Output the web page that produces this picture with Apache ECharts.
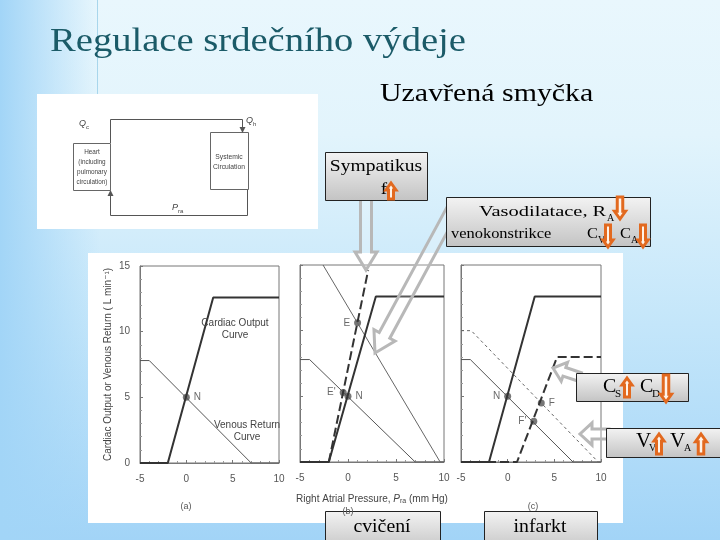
<!DOCTYPE html>
<html>
<head>
<meta charset="utf-8">
<script src="https://cdn.jsdelivr.net/npm/echarts@6/dist/echarts.min.js"></script>
<style>
html, body { margin: 0; padding: 0; }
#main { width: 720px; height: 540px; }
</style>
</head>
<body>
<div id="main"></div>
<script>
// axes
var xMin = -5, xMax = 10, xStep = 5;
var yMin = 0, yMax = 15, yStep = 5;

// normal cardiac output curve (all three panels)
var coX = [-5, -2, 2.9, 10];
var coY = [0, 0, 12.6, 12.6];
// normal venous return curve (all three panels)
var vrX = [-5, -4, 7, 10];
var vrY = [7.8, 7.8, 0, 0];

// (b) exercise
var coExX = [-2, 2.1];
var coExY = [0, 14.6];
var vrExX = [-2.6, 9.6, 10];
var vrExY = [15, 0, 0];

// (c) infarct
var coInfX = [-5, 1, 5.3, 10];
var coInfY = [0, 0, 8, 8];
var vrInfX = [-5, -3.9, 9.7, 10];
var vrInfY = [10, 10, 0, 0];

// equilibrium points
var ptNameA = ['N'];
var ptXA = [0];
var ptYA = [5];
var ptNameB = ['E', "E'", 'N'];
var ptXB = [1.0, -0.5, 0];
var ptYB = [10.6, 5.3, 5];
var ptNameC = ['N', 'F', "F'"];
var ptXC = [0, 3.6, 2.8];
var ptYC = [5, 4.5, 3.1];

var SERIF = '"Liberation Serif", "DejaVu Serif", serif';
var SANS = '"Liberation Sans", "DejaVu Sans", sans-serif';

function zip(xs, ys) {
    return xs.map(function (x, i) { return [x, ys[i]]; });
}

function pts(names, xs, ys, sides) {
    return names.map(function (n, i) {
        return { name: n, value: [xs[i], ys[i]], label: { position: sides[i] } };
    });
}

function line(gi, data, width, color, type) {
    return {
        type: 'line', xAxisIndex: gi, yAxisIndex: gi, data: data,
        showSymbol: false, silent: true, animation: false,
        lineStyle: { color: color, width: width, type: type || 'solid' }
    };
}

function dots(gi, data) {
    return {
        type: 'scatter', xAxisIndex: gi, yAxisIndex: gi, data: data,
        symbolSize: 7, animation: false,
        itemStyle: { color: '#555' },
        label: {
            show: true, formatter: '{b}', fontSize: 10, fontFamily: SANS,
            color: '#444', distance: 4
        }
    };
}

function xAx(gi) {
    return {
        gridIndex: gi, type: 'value', min: xMin, max: xMax, interval: xStep,
        axisLine: { show: true, onZero: false, lineStyle: { color: '#777' } },
        axisTick: { show: true, inside: true, length: 3, lineStyle: { color: '#777' } },
        minorTick: { show: true, splitNumber: 5, length: 2, lineStyle: { color: '#999' } },
        splitLine: { show: false },
        axisLabel: { color: '#555', fontSize: 10, fontFamily: SANS, margin: 11 }
    };
}

function yAx(gi) {
    return {
        gridIndex: gi, type: 'value', min: yMin, max: yMax, interval: yStep,
        axisLine: { show: true, onZero: false, lineStyle: { color: '#777' } },
        axisTick: { show: true, inside: true, length: 3, lineStyle: { color: '#777' } },
        minorTick: { show: true, splitNumber: 5, length: 2, lineStyle: { color: '#999' } },
        splitLine: { show: false },
        axisLabel: { show: gi === 0, color: '#555', fontSize: 10, fontFamily: SANS, margin: 10 }
    };
}

// ---- slide decoration helpers ----
function stext(x, y, s, size, opt) {
    opt = opt || {};
    var al = opt.align || 'left';
    return {
        type: 'text', x: x, y: y, scaleX: opt.sx || 1.12, z: 120, silent: true,
        style: {
            text: s, fontFamily: opt.font || SERIF, fontSize: size,
            fontStyle: opt.italic ? 'italic' : 'normal',
            fill: opt.color || '#000', lineHeight: opt.lh,
            align: al, textAlign: al, verticalAlign: 'middle', textVerticalAlign: 'middle'
        }
    };
}

function box(x, y, w, h) {
    return {
        type: 'rect', z: 110, silent: true,
        shape: { x: x + 0.5, y: y + 0.5, width: w, height: h },
        style: {
            fill: { type: 'linear', x: 0, y: 0, x2: 0, y2: 1,
                colorStops: [{ offset: 0, color: '#f3f3f3' }, { offset: 1, color: '#c3c3c3' }] },
            stroke: '#222', lineWidth: 1
        }
    };
}

function arrowPts(x1, y1, x2, y2, sw, hw, hl) {
    var dx = x2 - x1, dy = y2 - y1, L = Math.sqrt(dx * dx + dy * dy);
    var ux = dx / L, uy = dy / L, nx = -uy, ny = ux;
    var bx = x2 - ux * hl, by = y2 - uy * hl;
    return [
        [x1 + nx * sw / 2, y1 + ny * sw / 2],
        [bx + nx * sw / 2, by + ny * sw / 2],
        [bx + nx * hw / 2, by + ny * hw / 2],
        [x2, y2],
        [bx - nx * hw / 2, by - ny * hw / 2],
        [bx - nx * sw / 2, by - ny * sw / 2],
        [x1 - nx * sw / 2, y1 - ny * sw / 2]
    ];
}

function greyArrow(x1, y1, x2, y2, sw, hw, hl) {
    return {
        type: 'polygon', z: 100, silent: true,
        shape: { points: arrowPts(x1, y1, x2, y2, sw, hw, hl) },
        style: { fill: 'rgba(255,255,255,0.2)', stroke: '#b8b8b8', lineWidth: 3 }
    };
}

function orangeArrow(cx, top, bottom, w, up) {
    var p = up ? arrowPts(cx, bottom, cx, top, w * 0.5, w, w * 0.7)
               : arrowPts(cx, top, cx, bottom, w * 0.5, w, w * 0.7);
    return {
        type: 'polygon', z: 125, silent: true,
        shape: { points: p },
        style: { fill: '#fff3e8', stroke: '#e2691f', lineWidth: 3, lineJoin: 'miter' }
    };
}

function pline(points, z) {
    return { type: 'polyline', z: z || -80, silent: true, shape: { points: points },
        style: { stroke: '#555', lineWidth: 1, fill: null } };
}

function tri(points) {
    return { type: 'polygon', z: -80, silent: true, shape: { points: points },
        style: { fill: '#555' } };
}

var graphics = [
    // slide background
    { type: 'rect', z: -100, silent: true, shape: { x: 0, y: 0, width: 720, height: 540 },
      style: { fill: { type: 'linear', x: 0, y: 0, x2: 0, y2: 1,
        colorStops: [{ offset: 0, color: '#e9f7fd' }, { offset: 0.25, color: '#e2f4fc' },
                     { offset: 0.6, color: '#c4e6fa' }, { offset: 1, color: '#a2d4f7' }] } } },
    { type: 'rect', z: -99, silent: true, shape: { x: 0, y: 0, width: 100, height: 540 },
      style: { fill: { type: 'linear', x: 0, y: 0, x2: 1, y2: 0,
        colorStops: [{ offset: 0, color: 'rgba(162,213,247,1)' }, { offset: 1, color: 'rgba(162,213,247,0)' }] } } },
    { type: 'line', z: -97, silent: true, shape: { x1: 97.5, y1: 0, x2: 97.5, y2: 95 },
      style: { stroke: '#a8d6ec', lineWidth: 1 } },

    // white image areas
    { type: 'rect', z: -90, silent: true, shape: { x: 37, y: 94, width: 281, height: 135 }, style: { fill: '#fff' } },
    { type: 'rect', z: -90, silent: true, shape: { x: 88, y: 253, width: 535, height: 270 }, style: { fill: '#fff' } },

    // block diagram
    { type: 'rect', z: -80, silent: true, shape: { x: 73.5, y: 143.5, width: 37, height: 47 },
      style: { fill: null, stroke: '#666', lineWidth: 1 } },
    { type: 'rect', z: -80, silent: true, shape: { x: 210.5, y: 132.5, width: 38, height: 57 },
      style: { fill: null, stroke: '#666', lineWidth: 1 } },
    pline([[110.5, 143], [110.5, 119.5], [242.5, 119.5], [242.5, 128]]),
    tri([[239.5, 127], [245.5, 127], [242.5, 133]]),
    pline([[247.5, 190], [247.5, 215.5], [110.5, 215.5], [110.5, 195]]),
    tri([[107.5, 196], [113.5, 196], [110.5, 190]]),
    stext(92, 167, 'Heart\n(including\npulmonary\ncirculation)', 7.5,
        { font: SANS, align: 'center', color: '#444', lh: 10, sx: 0.85 }),
    stext(229, 162, 'Systemic\nCirculation', 7.5,
        { font: SANS, align: 'center', color: '#444', lh: 10, sx: 0.9 }),
    stext(79, 123, 'Q', 9, { font: SANS, italic: true, color: '#444', sx: 1 }),
    stext(86, 127, 'c', 6, { font: SANS, color: '#444', sx: 1 }),
    stext(246, 120, 'Q', 9, { font: SANS, italic: true, color: '#444', sx: 1 }),
    stext(253, 124, 'h', 6, { font: SANS, color: '#444', sx: 1 }),
    stext(172, 207, 'P', 9, { font: SANS, italic: true, color: '#444', sx: 1 }),
    stext(178, 211, 'ra', 6, { font: SANS, color: '#444', sx: 1 }),

    // titles
    stext(50, 42, 'Regulace srdečního výdeje', 33, { color: '#1b5b68', sx: 1.17 }),
    stext(380, 94, 'Uzavřená smyčka', 26, { sx: 1.15 }),

    // panel annotations
    stext(235, 329, 'Cardiac Output\nCurve', 10, { font: SANS, align: 'center', color: '#444', lh: 12, sx: 1 }),
    stext(247, 431, 'Venous Return\nCurve', 10, { font: SANS, align: 'center', color: '#444', lh: 12, sx: 1 }),
    stext(186, 507, '(a)', 9, { font: SANS, align: 'center', color: '#555', sx: 1 }),
    stext(348, 512, '(b)', 9, { font: SANS, align: 'center', color: '#555', sx: 1 }),
    stext(533, 507, '(c)', 9, { font: SANS, align: 'center', color: '#555', sx: 1 }),

    // grey hollow arrows
    greyArrow(366, 196, 366, 270, 11, 22, 18),
    greyArrow(455, 205, 375, 353, 12, 24, 20),
    greyArrow(580, 377, 553, 368, 9, 20, 12),
    greyArrow(609, 434, 580, 434, 10, 22, 12),

    // labelled boxes
    box(325, 152, 102, 48),
    stext(376, 167, 'Sympatikus', 17, { align: 'center', sx: 1.15 }),
    stext(384, 190, 'f', 17, { align: 'center' }),
    orangeArrow(391, 183, 199, 10, true),

    box(446, 197, 204, 49),
    stext(479, 212, 'Vasodilatace, R', 15.5, { sx: 1.32 }),
    stext(607, 218, 'A', 10, { sx: 1 }),
    orangeArrow(620, 197, 219, 11, false),
    stext(451, 234, 'venokonstrikce', 15.5, { sx: 1.06 }),
    stext(587, 234, 'C', 15.5, { sx: 1.06 }),
    stext(598, 240, 'V', 10, { sx: 1 }),
    orangeArrow(608, 225, 247, 10, false),
    stext(620, 234, 'C', 15.5, { sx: 1.06 }),
    stext(631, 240, 'A', 10, { sx: 1 }),
    orangeArrow(643, 225, 247, 10, false),

    box(576, 373, 112, 28),
    stext(603, 387, 'C', 19, { sx: 1.05 }),
    stext(615, 394, 'S', 11, { sx: 1 }),
    orangeArrow(627, 378, 397, 10, true),
    stext(640, 387, 'C', 19, { sx: 1.05 }),
    stext(652, 394, 'D', 11, { sx: 1 }),
    orangeArrow(666, 375, 402, 11, false),

    box(606, 428, 118, 29),
    stext(636, 442, 'V', 20, { sx: 1.05 }),
    stext(649, 448, 'V', 10, { sx: 1 }),
    orangeArrow(659, 434, 454, 10, true),
    stext(670, 442, 'V', 20, { sx: 1.05 }),
    stext(684, 448, 'A', 10, { sx: 1 }),
    orangeArrow(701, 434, 454, 11, true),

    box(325, 511, 115, 40),
    stext(382, 527, 'cvičení', 18, { align: 'center', sx: 1.1 }),
    box(484, 511, 113, 40),
    stext(540, 527, 'infarkt', 18, { align: 'center', sx: 1.1 })
];

var chart = echarts.init(document.getElementById('main'));
var option = {
    animation: false,
    grid: [
        { left: 140, top: 266, width: 139, height: 197, show: true, borderColor: '#777', borderWidth: 1 },
        { left: 300, top: 265, width: 144, height: 197, show: true, borderColor: '#777', borderWidth: 1 },
        { left: 461, top: 265, width: 140, height: 197, show: true, borderColor: '#777', borderWidth: 1 }
    ],
    xAxis: [
        xAx(0),
        Object.assign(xAx(1), {
            name: 'Right Atrial Pressure, {i|P}{s|ra} (mm Hg)', nameLocation: 'middle', nameGap: 31,
            nameTextStyle: { color: '#444', fontSize: 10, fontFamily: SANS,
                rich: { i: { fontStyle: 'italic', fontSize: 10, fontFamily: SANS, color: '#444' },
                        s: { fontSize: 7, fontFamily: SANS, color: '#444', padding: [5, 0, 0, 0] } } }
        }),
        xAx(2)
    ],
    yAxis: [
        Object.assign(yAx(0), {
            name: 'Cardiac Output or Venous Return ( L min\u207B\u00B9)', nameLocation: 'middle', nameGap: 27,
            nameTextStyle: { color: '#444', fontSize: 10, fontFamily: SANS }
        }),
        yAx(1),
        yAx(2)
    ],
    series: [
        line(0, zip(vrX, vrY), 1, '#555'),
        line(0, zip(coX, coY), 2, '#333'),
        dots(0, pts(ptNameA, ptXA, ptYA, ['right'])),

        line(1, zip(vrX, vrY), 1, '#555'),
        line(1, zip(vrExX, vrExY), 1, '#666'),
        line(1, zip(coX, coY), 2, '#333'),
        line(1, zip(coExX, coExY), 2, '#333', [9, 4]),
        dots(1, pts(ptNameB, ptXB, ptYB, ['left', 'left', 'right'])),

        line(2, zip(vrX, vrY), 1, '#555'),
        line(2, zip(vrInfX, vrInfY), 1, '#666', [3, 3]),
        line(2, zip(coX, coY), 2, '#333'),
        line(2, zip(coInfX, coInfY), 2, '#333', [9, 4]),
        dots(2, pts(ptNameC, ptXC, ptYC, ['left', 'right', 'left']))
    ],
    graphic: { elements: graphics }
};
chart.setOption(option);
</script>
</body>
</html>
